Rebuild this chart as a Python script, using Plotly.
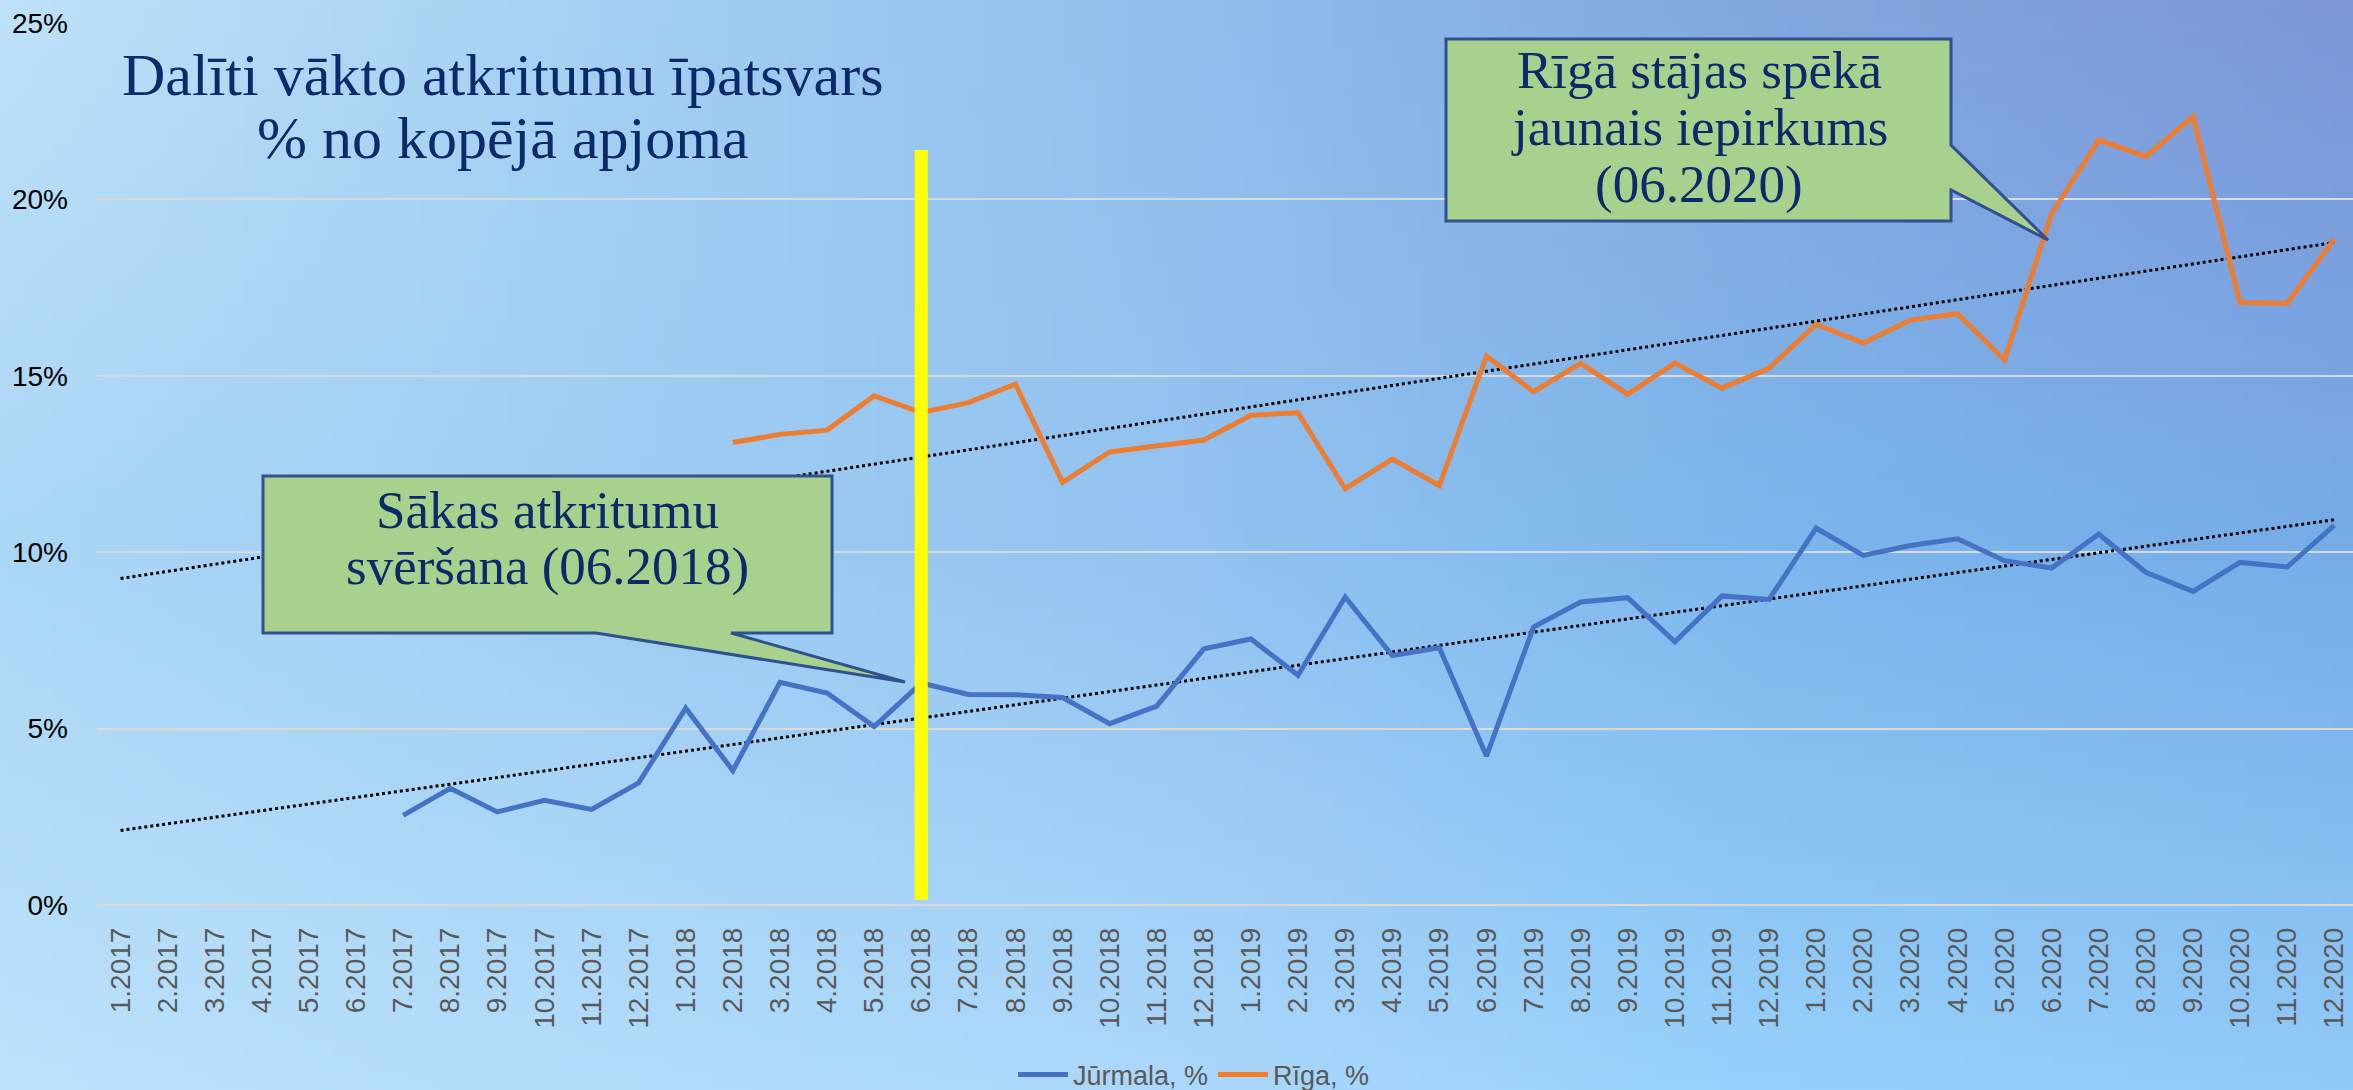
import base64
import struct
import zlib

import numpy as np
import plotly.graph_objects as go

# ---------------- data ----------------
months = [
    "1.2017", "2.2017", "3.2017", "4.2017", "5.2017", "6.2017",
    "7.2017", "8.2017", "9.2017", "10.2017", "11.2017", "12.2017",
    "1.2018", "2.2018", "3.2018", "4.2018", "5.2018", "6.2018",
    "7.2018", "8.2018", "9.2018", "10.2018", "11.2018", "12.2018",
    "1.2019", "2.2019", "3.2019", "4.2019", "5.2019", "6.2019",
    "7.2019", "8.2019", "9.2019", "10.2019", "11.2019", "12.2019",
    "1.2020", "2.2020", "3.2020", "4.2020", "5.2020", "6.2020",
    "7.2020", "8.2020", "9.2020", "10.2020", "11.2020", "12.2020",
]

jurmala = [
    None, None, None, None, None, None,
    2.54, 3.31, 2.64, 2.97, 2.71, 3.46,
    5.58, 3.81, 6.31, 6.01, 5.06, 6.29, 5.97, 5.96, 5.88, 5.14, 5.64, 7.26,
    7.54, 6.51, 8.73, 7.07, 7.29, 4.22, 7.88, 8.59, 8.71, 7.46, 8.76, 8.66,
    10.68, 9.91, 10.19, 10.38, 9.76, 9.55, 10.51, 9.43, 8.89, 9.71, 9.58, 10.76,
]

riga = [
    None, None, None, None, None, None, None, None, None, None, None, None,
    None, 13.11, 13.34, 13.46, 14.43, 13.96, 14.24, 14.76, 11.98, 12.84, 13.01, 13.18,
    13.88, 13.95, 11.80, 12.64, 11.89, 15.56, 14.55, 15.35, 14.48, 15.36, 14.65, 15.21,
    16.46, 15.93, 16.58, 16.76, 15.45, 19.60, 21.68, 21.21, 22.35, 17.08, 17.05, 18.88,
]

series_names = ["Jūrmala, %", "Rīga, %"]
marker_month = "6.2018"
title_lines = ["Dalīti vākto atkritumu īpatsvars", "% no kopējā apjoma"]
callout1_lines = ["Sākas atkritumu", "svēršana (06.2018)"]
callout2_lines = ["Rīgā stājas spēkā", "jaunais iepirkums", "(06.2020)"]

# ---------------- layout constants ----------------
W, H = 2353, 1090
ML, MR, MT, MB = 97, 0, 23, 185
PW, PH = W - ML - MR, H - MT - MB
CAT_W = 47.1
X_RANGE = [-0.5, -0.5 + PW / CAT_W]


def px(x):
    return (x - ML) / PW


def py(y):
    return (H - MB - y) / PH


# ---------------- background gradient (style only) ----------------
def gradient_uri(w=160, h=80):
    grid = np.array([
        [(190, 225, 248), (165, 208, 242), (145, 190, 235), (130, 166, 224), (126, 150, 214)],
        [(170, 214, 246), (158, 204, 242), (146, 195, 240), (124, 182, 236), (118, 172, 232)],
        [(188, 226, 251), (178, 220, 250), (170, 215, 250), (150, 208, 250), (145, 202, 248)],
    ], dtype=float)
    gy, gx = grid.shape[0] - 1, grid.shape[1] - 1
    rows = []
    for j in range(h):
        fy = j / (h - 1) * gy
        j0 = min(int(fy), gy - 1)
        ty = fy - j0
        row = bytearray()
        for i in range(w):
            fx = i / (w - 1) * gx
            i0 = min(int(fx), gx - 1)
            tx = fx - i0
            c = (grid[j0, i0] * (1 - tx) * (1 - ty) + grid[j0, i0 + 1] * tx * (1 - ty)
                 + grid[j0 + 1, i0] * (1 - tx) * ty + grid[j0 + 1, i0 + 1] * tx * ty)
            row.extend(int(round(v)) for v in c)
        rows.append(bytes(row))
    raw = b"".join(b"\x00" + r for r in rows)

    def chunk(tag, data):
        return (struct.pack(">I", len(data)) + tag + data
                + struct.pack(">I", zlib.crc32(tag + data) & 0xFFFFFFFF))

    png = (b"\x89PNG\r\n\x1a\n"
           + chunk(b"IHDR", struct.pack(">IIBBBBB", w, h, 8, 2, 0, 0, 0))
           + chunk(b"IDAT", zlib.compress(raw, 9))
           + chunk(b"IEND", b""))
    return "data:image/png;base64," + base64.b64encode(png).decode()


# ---------------- trend lines ----------------
def trend(values):
    idx = np.arange(len(values))
    mask = np.array([v is not None for v in values])
    vals = np.array([v if v is not None else np.nan for v in values], dtype=float)
    coef = np.polyfit(idx[mask], vals[mask], 1)
    return np.polyval(coef, idx)


BLUE = "#4472C4"
ORANGE = "#ED7D31"
NAVY = "#0C2A6A"
GREEN = "#A9D18E"
BORDER = "#2F528F"

fig = go.Figure()

for vals in (jurmala, riga):
    fig.add_trace(go.Scatter(
        x=months, y=trend(vals), mode="lines", showlegend=False, hoverinfo="skip",
        line=dict(color="black", width=3, dash="dot"),
    ))

fig.add_trace(go.Scatter(x=months, y=jurmala, mode="lines", name=series_names[0],
                         line=dict(color=BLUE, width=5), connectgaps=False))
fig.add_trace(go.Scatter(x=months, y=riga, mode="lines", name=series_names[1],
                         line=dict(color=ORANGE, width=5), connectgaps=False))

# yellow marker line at 06.2018 (category index on the category axis)
mi = months.index(marker_month)
fig.add_shape(type="line", xref="x", yref="y", x0=mi, x1=mi,
              y0=0.15, y1=21.4, line=dict(color="#FFFF00", width=13), layer="above")


def callout_path(points):
    return "M " + " L ".join(f"{px(x):.5f},{py(y):.5f}" for x, y in points) + " Z"


# callout 1 (box with pointer from bottom edge)
c1 = [(263, 476), (832, 476), (832, 633), (731, 633), (905, 682), (596, 633), (263, 633)]
fig.add_shape(type="path", xref="paper", yref="paper", path=callout_path(c1),
              fillcolor=GREEN, line=dict(color=BORDER, width=3), layer="above")
# callout 2 (box with pointer from right edge)
c2 = [(1446, 39), (1951, 39), (1951, 145), (2048, 240), (1951, 190), (1951, 221), (1446, 221)]
fig.add_shape(type="path", xref="paper", yref="paper", path=callout_path(c2),
              fillcolor=GREEN, line=dict(color=BORDER, width=3), layer="above")

annotations = []


def add_text(text, cx, baseline, size):
    annotations.append(dict(
        text=text, xref="paper", yref="paper", x=px(cx), y=py(baseline - 0.42 * size),
        xanchor="center", yanchor="middle", showarrow=False,
        font=dict(family="Liberation Serif", size=size, color=NAVY),
    ))


for line, base in zip(title_lines, [100, 163]):
    add_text(line, 503, base, 60)
for line, base in zip(callout1_lines, [532, 589]):
    add_text(line, 547, base, 53)
for line, base in zip(callout2_lines, [92, 149, 207]):
    add_text(line, 1699, base, 53)

fig.update_layout(
    width=W, height=H, autosize=False,
    margin=dict(l=ML, r=MR, t=MT, b=MB, pad=0, autoexpand=False),
    paper_bgcolor="#A6CFF2",
    plot_bgcolor="rgba(0,0,0,0)",
    images=[dict(source=gradient_uri(), xref="paper", yref="paper",
                 x=-ML / PW, y=(H - MB) / PH, sizex=W / PW, sizey=H / PH,
                 xanchor="left", yanchor="top", sizing="stretch", layer="below")],
    annotations=annotations,
    showlegend=True,
    legend=dict(orientation="h", xref="container", yref="container",
                x=1194 / W, y=1 - 1075 / H, xanchor="center", yanchor="middle",
                font=dict(family="Liberation Sans", size=27, color="#595959"),
                bgcolor="rgba(0,0,0,0)", itemwidth=50, borderwidth=0),
    xaxis=dict(type="category", categoryorder="array", categoryarray=months,
               range=X_RANGE, tickangle=-90, showgrid=False, zeroline=False,
               showline=False, ticks="", ticklabelstandoff=16, automargin=False,
               tickfont=dict(family="Liberation Sans", size=28, color="#595959")),
    yaxis=dict(range=[0, 25], dtick=5, ticksuffix="%", showgrid=True,
               gridcolor="#D9D9D9", gridwidth=2, zeroline=True,
               zerolinecolor="#D9D9D9", zerolinewidth=2, showline=False, ticks="",
               ticklabelstandoff=28, automargin=False,
               tickfont=dict(family="Liberation Sans", size=28, color="#000000")),
)

fig.write_html(
    "out.html",
    config={"displayModeBar": False},
    post_script="document.body.style.margin='0';document.body.style.overflow='hidden';",
)
